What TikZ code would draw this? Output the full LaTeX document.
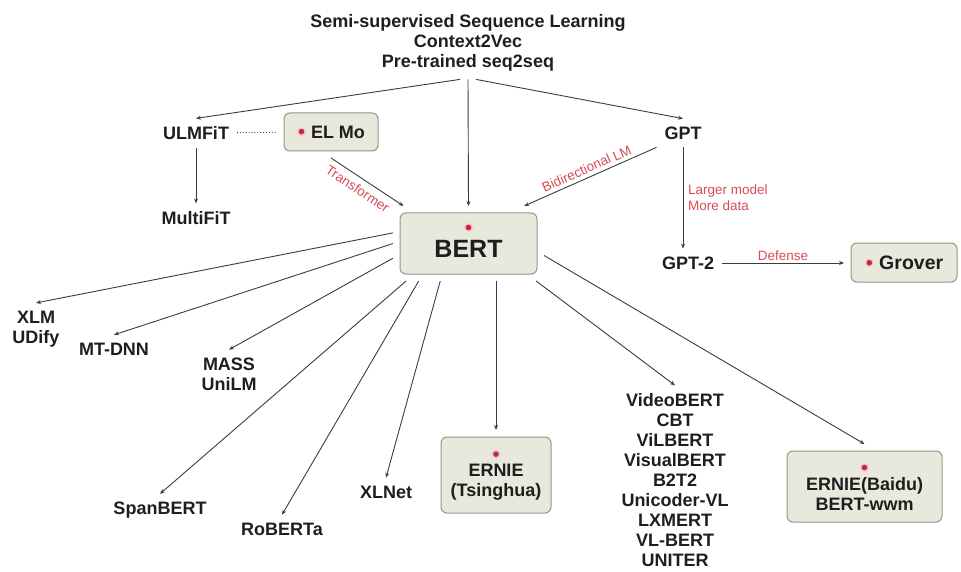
\documentclass[tikz,border=0pt]{standalone}
\usepackage{fontspec}
\setmainfont{Liberation Sans}
\usetikzlibrary{arrows.meta}
\definecolor{boxfill}{RGB}{232,232,220}
\definecolor{boxline}{RGB}{150,150,135}
\definecolor{ink}{RGB}{30,30,30}
\definecolor{linegray}{RGB}{60,60,60}
\definecolor{notered}{RGB}{215,75,85}
\definecolor{dotred}{RGB}{200,40,60}
\newcommand{\reddot}{\tikz[baseline=-6.5pt]{\fill[dotred!25] (0,0) circle (4.5pt); \fill[dotred] (0,0) circle (2.8pt);}}

\begin{document}
\begin{tikzpicture}
[x=1pt,y=-1pt,%
  every node/.style={text=ink,font=\fontsize{18}{20}\selectfont\bfseries,align=center,inner sep=3pt,outer sep=5pt},%
  model/.style={draw=boxline,fill=boxfill,line width=1pt,rounded corners=6pt,outer sep=7pt},%
  note/.style={text=notered,font=\fontsize{13.5}{16}\selectfont,inner sep=2pt,outer sep=0pt},%
  conn/.style={draw=linegray,line width=0.9pt,-{Stealth[length=5pt,width=4pt]}}]
\useasboundingbox (0,0) rectangle (961,572);
\node (seq) at (468,43) {Semi-supervised Sequence Learning\\Context2Vec\\Pre-trained seq2seq};
\node (ulmfit) at (196,133) {ULMFiT};
\node (multifit) at (196,218) {MultiFiT};
\node[model,minimum width=94pt,minimum height=38pt] (elmo) at (331,132) {\reddot\ EL Mo};
\node (gpt) at (683,133) {GPT};
\node (gpt2) at (688,263) {GPT-2};
\node[model,minimum width=106pt,minimum height=39pt,font=\fontsize{19.5}{20}\selectfont\bfseries] (grover) at (904,262.5) {\reddot\ Grover};
\node[model,minimum width=137pt,minimum height=61pt,text depth=7pt,font=\fontsize{25}{26}\selectfont\bfseries] (bert) at (468.5,243.5) {\reddot\\[-3pt]BERT};
\node (xlm) at (36,329) {XLM\\UDify};
\node (mtdnn) at (114,349) {MT-DNN};
\node (mass) at (229,374) {MASS\\UniLM};
\node (spanbert) at (160,510) {SpanBERT};
\node (roberta) at (282,529) {RoBERTa};
\node (xlnet) at (386,492) {XLNet};
\node[model,minimum width=110pt,minimum height=76pt] (ernie) at (496,475) {\reddot\\[-4pt]ERNIE\\(Tsinghua)};
\node (vision) at (675,480) {VideoBERT\\CBT\\ViLBERT\\VisualBERT\\B2T2\\Unicoder-VL\\LXMERT\\VL-BERT\\UNITER};
\node[model,minimum width=155pt,minimum height=71pt] (baidu) at (864.5,486.5) {\reddot\\[-4pt]ERNIE(Baidu)\\BERT-wwm};

\draw[conn] ([xshift=-8pt]seq.south) -- (ulmfit.north);
\draw[conn] (seq.south) -- (bert.north);
\draw[conn] ([xshift=8pt]seq.south) -- (gpt.north);
\draw[conn] (ulmfit) -- (multifit);
\draw[linegray,dotted,line width=0.9pt] (ulmfit) -- (elmo);
\draw[conn] (elmo.south) -- node[note,sloped,below=4pt,pos=0.45] {Transformer} (bert.150);
\draw[conn] (gpt.south west) -- node[note,sloped,above=2pt] {Bidirectional LM} (bert.34);
\draw[conn] (gpt) -- node[note,right,align=left,xshift=3pt] {Larger model\\More data} (gpt.south |- gpt2.north);
\draw[conn] (gpt2.east) -- node[note,above] {Defense} (gpt2.east -| grover.west);
\foreach \a/\n in {172/xlm,180/mtdnn,191/mass,211/spanbert,217/roberta,233/xlnet,331/vision,351/baidu}
  \draw[conn] (bert.\a) -- (\n.north);
\draw[conn] (ernie.north |- bert.south) -- (ernie.north);
\end{tikzpicture}
\end{document}
